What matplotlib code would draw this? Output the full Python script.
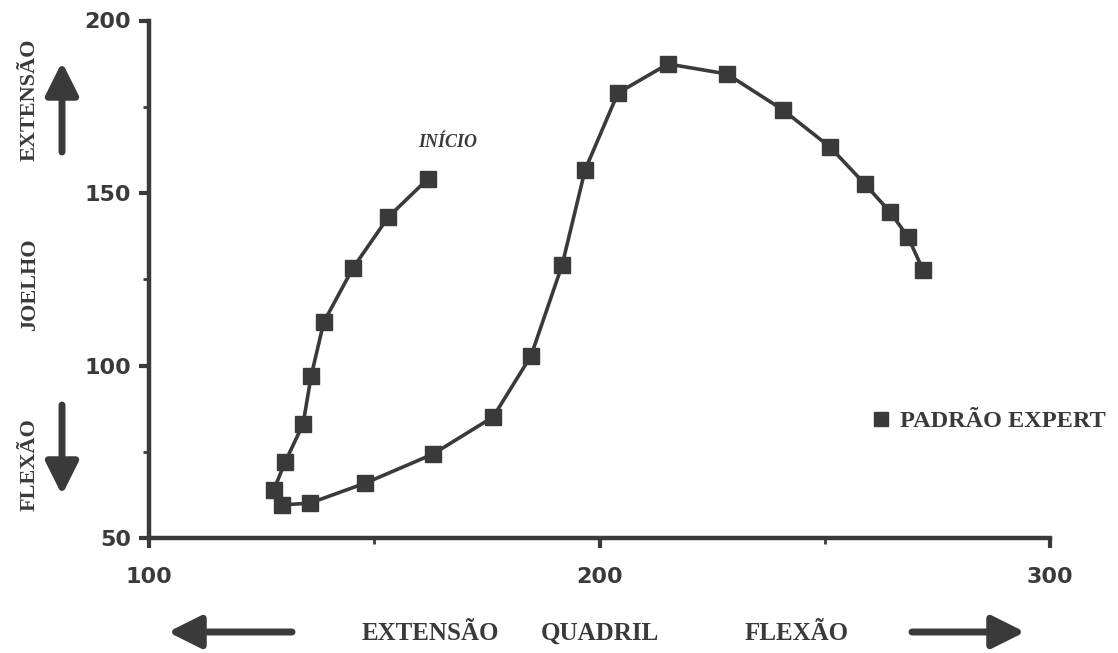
import matplotlib
matplotlib.use("Agg")
import matplotlib.pyplot as plt
from matplotlib.lines import Line2D

# Data (hip angle vs knee angle), starting at "INÍCIO"
quadril = [161.9, 153.1, 145.3, 138.8, 136.0, 134.2, 130.2, 127.7, 129.5, 135.7,
           148.0, 163.0, 176.4, 184.8, 191.7, 196.8, 204.1, 215.2, 228.3, 240.7,
           251.2, 258.9, 264.5, 268.5, 271.8]
joelho = [154.1, 143.0, 128.3, 112.6, 97.0, 83.0, 72.0, 63.9, 59.6, 60.1,
          65.9, 74.3, 85.1, 102.8, 129.1, 156.7, 179.0, 187.4, 184.5, 174.1,
          163.3, 152.6, 144.5, 137.2, 127.7]
x_ticks = [100, 200, 300]
y_ticks = [50, 100, 150, 200]
x_minor = [150, 250]
y_minor = [75, 125, 175]
serie_label = "PADRÃO EXPERT"
inicio_label = "INÍCIO"

INK = "#3a3a3a"
W, H = 1118, 653
fig = plt.figure(figsize=(W / 100, H / 100), dpi=100)
fig.patch.set_facecolor("white")

def fx(px):
    return px / W

def fy(py):
    return 1 - py / H

ax = fig.add_axes([fx(149), fy(538), fx(1050) - fx(149), fy(20.5) - fy(538)])
ax.set_xlim(100, 300)
ax.set_ylim(50, 200)

ax.plot(quadril, joelho, color=INK, lw=2.6, marker="s", markersize=11.5,
        markerfacecolor=INK, markeredgecolor=INK, solid_joinstyle="round")

for s in ["top", "right"]:
    ax.spines[s].set_visible(False)
for s in ["left", "bottom"]:
    ax.spines[s].set_color(INK)
    ax.spines[s].set_linewidth(3.2)

ax.set_xticks(x_ticks)
ax.set_yticks(y_ticks)
ax.set_xticks(x_minor, minor=True)
ax.set_yticks(y_minor, minor=True)
ax.tick_params(axis="both", which="major", direction="out", length=7, width=3,
               color=INK, labelcolor=INK, labelsize=16)
ax.tick_params(axis="both", which="minor", direction="out", length=4, width=2,
               color=INK)
for lab in ax.get_xticklabels() + ax.get_yticklabels():
    lab.set_fontweight("bold")
    lab.set_family("DejaVu Sans")
ax.tick_params(axis="y", which="major", pad=6)
ax.tick_params(axis="x", which="major", pad=14)

# "INÍCIO" annotation
ax.annotate(inicio_label, xy=(quadril[0], joelho[0]), xytext=(14, 26),
            textcoords="offset points", ha="center", va="center",
            fontsize=13, fontweight="bold", fontstyle="italic",
            family="Liberation Serif", color=INK)

# Legend
handle = Line2D([], [], linestyle="none", marker="s", markersize=10.5,
                markerfacecolor=INK, markeredgecolor=INK)
fig.legend([handle], [serie_label], loc="center left",
           bbox_to_anchor=(fx(862), fy(421)), frameon=False, handlelength=0.6,
           handletextpad=0.45, borderpad=0,
           prop={"family": "Liberation Serif", "weight": "bold", "size": 17.5},
           labelcolor=INK)

# Y-axis label with arrows
lab_kw = dict(rotation=90, ha="center", va="center", fontsize=16,
              fontweight="bold", family="Liberation Serif", color=INK)
fig.text(fx(30), fy(100), "EXTENSÃO", **lab_kw)
fig.text(fx(30), fy(285), "JOELHO", **lab_kw)
fig.text(fx(30), fy(465), "FLEXÃO", **lab_kw)

arr = dict(arrowstyle="-|>,head_length=0.9,head_width=0.45", color=INK, lw=5,
           shrinkA=0, shrinkB=0)
fig.add_artist(matplotlib.patches.FancyArrowPatch(
    (fx(62), fy(152)), (fx(62), fy(62)), transform=fig.transFigure,
    mutation_scale=22, **arr))
fig.add_artist(matplotlib.patches.FancyArrowPatch(
    (fx(62), fy(405)), (fx(62), fy(495)), transform=fig.transFigure,
    mutation_scale=22, **arr))

# X-axis label with arrows
xl_kw = dict(ha="center", va="center", fontsize=18, fontweight="bold",
             family="Liberation Serif", color=INK)
fig.text(fx(430), fy(633), "EXTENSÃO", **xl_kw)
fig.text(fx(600), fy(633), "QUADRIL", **xl_kw)
fig.text(fx(797), fy(633), "FLEXÃO", **xl_kw)
fig.add_artist(matplotlib.patches.FancyArrowPatch(
    (fx(292), fy(632)), (fx(168), fy(632)), transform=fig.transFigure,
    mutation_scale=22, **arr))
fig.add_artist(matplotlib.patches.FancyArrowPatch(
    (fx(912), fy(632)), (fx(1025), fy(632)), transform=fig.transFigure,
    mutation_scale=22, **arr))

fig.savefig("out.png", dpi=100, facecolor="white")
